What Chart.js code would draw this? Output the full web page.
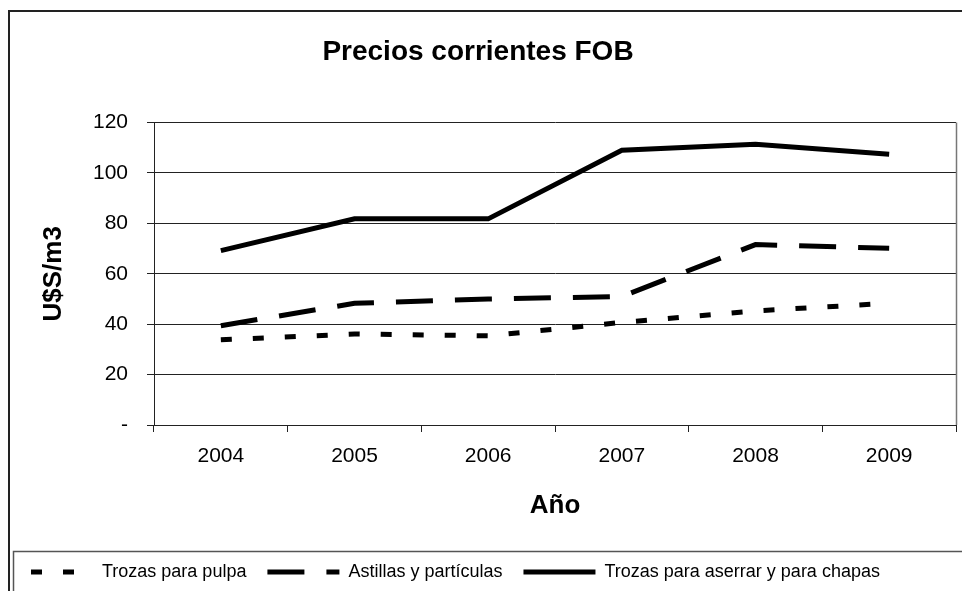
<!DOCTYPE html>
<html>
<head>
<meta charset="utf-8">
<title>Precios corrientes FOB</title>
<script src="https://cdn.jsdelivr.net/npm/chart.js@4/dist/chart.umd.min.js"></script>
<style>
  html, body { margin: 0; padding: 0; background: #fff; overflow: hidden; }
  #chart { display: block; }
</style>
</head>
<body>
<canvas id="chart" width="962" height="591"></canvas>
<script>
// Chart data
const years = ["2004", "2005", "2006", "2007", "2008", "2009"];
const trozasPulpa = [33.8, 36.1, 35.4, 40.7, 45.3, 48.3];
const astillas = [39.4, 48.3, 50.0, 51.0, 71.6, 70.1];
const trozasAserrar = [69.2, 81.8, 81.8, 109.0, 111.4, 107.4];
const yTicks = [0, 20, 40, 60, 80, 100, 120];

const fontFamily = "'Liberation Sans', Arial, sans-serif";
const legendBoxWidth = 72;

// Frame around the whole chart, the legend box, the right edge of the plot
// and the dashed line samples in the legend
const framePlugin = {
  id: "frame",
  afterDraw(chart) {
    const ctx = chart.ctx;
    const area = chart.chartArea;
    const legend = chart.legend;
    ctx.save();
    ctx.strokeStyle = "#222";
    ctx.lineWidth = 2;
    ctx.strokeRect(9, 11, 970, 600);

    // legend box sits 9px below the legend's own top (its padding is larger)
    ctx.strokeStyle = "#555";
    ctx.lineWidth = 1.5;
    ctx.strokeRect(13.5, Math.round(legend.top) + 9.5, 970, 100);

    ctx.strokeStyle = "#777";
    ctx.lineWidth = 1.5;
    ctx.beginPath();
    ctx.moveTo(Math.round(area.right) + 0.5, area.top);
    ctx.lineTo(Math.round(area.right) + 0.5, area.bottom);
    ctx.stroke();

    // legend samples
    legend.legendHitBoxes.forEach((box, i) => {
      const ds = chart.data.datasets[i];
      const y = box.top + box.height / 2;
      ctx.strokeStyle = ds.borderColor;
      ctx.lineWidth = ds.borderWidth;
      ctx.setLineDash(ds.borderDash || []);
      ctx.lineDashOffset = ds.legendDashOffset || 0;
      ctx.beginPath();
      ctx.moveTo(box.left, y);
      ctx.lineTo(box.left + legendBoxWidth, y);
      ctx.stroke();
    });
    ctx.restore();
  },
};

const ctx = document.getElementById("chart").getContext("2d");
const chart = new Chart(ctx, {
  type: "line",
  data: {
    labels: years,
    datasets: [
      {
        label: "Trozas para pulpa",
        data: trozasPulpa,
        borderColor: "#000",
        backgroundColor: "#000",
        borderWidth: 5,
        borderDash: [11, 21],
        legendDashOffset: 22,
        pointRadius: 0,
        tension: 0,
      },
      {
        label: "Astillas y partículas",
        data: astillas,
        borderColor: "#000",
        backgroundColor: "#000",
        borderWidth: 5,
        borderDash: [37, 22],
        pointRadius: 0,
        tension: 0,
      },
      {
        label: "Trozas para aserrar y para chapas",
        data: trozasAserrar,
        borderColor: "#000",
        backgroundColor: "#000",
        borderWidth: 5,
        pointRadius: 0,
        tension: 0,
      },
    ],
  },
  options: {
    responsive: false,
    animation: false,
    layout: {
      padding: { left: 0, right: 6, top: 0, bottom: 0 },
    },
    plugins: {
      title: {
        display: true,
        text: "Precios corrientes FOB",
        color: "#000",
        font: { family: fontFamily, size: 28, weight: "bold" },
        padding: { top: 35, bottom: 54 },
      },
      legend: {
        position: "bottom",
        align: "start",
        labels: {
          color: "#000",
          font: { family: fontFamily, size: 18 },
          usePointStyle: true,
          pointStyle: "line",
          pointStyleWidth: legendBoxWidth,
          padding: 21,
          generateLabels(chart) {
            return Chart.defaults.plugins.legend.labels
              .generateLabels(chart)
              .map((item) => ({ ...item, strokeStyle: "rgba(0,0,0,0)", fillStyle: "rgba(0,0,0,0)" }));
          },
        },
      },
      tooltip: { enabled: false },
    },
    scales: {
      x: {
        offset: true,
        grid: {
          offset: true,
          drawOnChartArea: false,
          drawTicks: true,
          tickLength: 7,
          color: "#222",
        },
        border: { color: "#222", width: 1 },
        ticks: {
          color: "#000",
          font: { family: fontFamily, size: 21 },
          padding: 12,
          maxRotation: 0,
        },
        title: {
          display: true,
          text: "Año",
          color: "#000",
          font: { family: fontFamily, size: 26, weight: "bold" },
          padding: { top: 30, bottom: 21 },
        },
        afterFit(scale) {
          scale.height = 117;
        },
      },
      y: {
        min: 0,
        max: 120,
        afterBuildTicks(scale) {
          scale.ticks = yTicks.map((v) => ({ value: v }));
        },
        grid: {
          color: "#222",
          tickLength: 7,
        },
        border: { color: "#222", width: 1 },
        ticks: {
          color: "#000",
          font: { family: fontFamily, size: 21 },
          padding: 19,
          callback: function (value) {
            return value === 0 ? "-" : value;
          },
        },
        title: {
          display: true,
          text: "U$S/m3",
          color: "#000",
          font: { family: fontFamily, size: 26, weight: "bold" },
          padding: { top: 38, bottom: 10 },
        },
        afterFit(scale) {
          scale.width = 154;
        },
      },
    },
  },
  plugins: [framePlugin],
});
</script>
</body>
</html>
